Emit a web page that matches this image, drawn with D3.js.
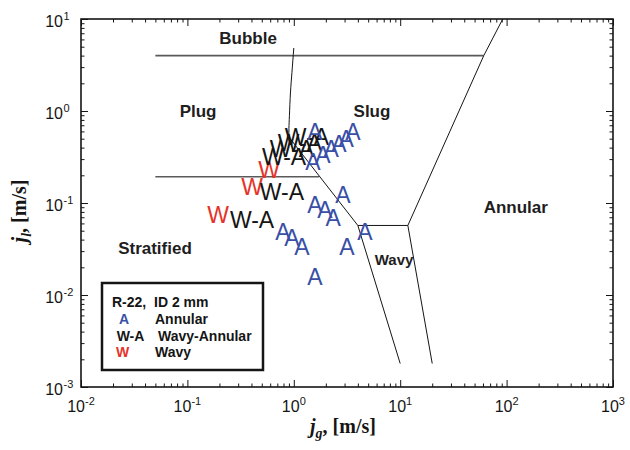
<!DOCTYPE html>
<html>
<head>
<meta charset="utf-8">
<script src="https://cdn.jsdelivr.net/npm/d3@7"></script>
<style>
  html, body { margin: 0; padding: 0; background: #fff; }
  svg { display: block; }
</style>
</head>
<body>
<script>
// Flow-pattern map for R-22 in a 2 mm tube: superficial gas vs liquid velocity

// Observed points, annular (A)
const annularJg = [1.58, 1.51, 1.88, 2.24, 2.66, 3.10, 3.60, 2.90, 1.58, 1.96, 2.34, 4.67, 0.79, 0.96, 1.19, 3.16, 1.58];
const annularJl = [0.59, 0.279, 0.333, 0.386, 0.438, 0.496, 0.59, 0.122, 0.095, 0.084, 0.0687, 0.0484, 0.0484, 0.0417, 0.0333, 0.0333, 0.0157];
// Observed points, wavy-annular (W-A)
const wavyAnnularJg = [0.774, 0.405, 0.81, 0.96, 1.14, 1.33];
const wavyAnnularJl = [0.132, 0.0653, 0.316, 0.386, 0.449, 0.521];
// Observed points, wavy (W)
const wavyJg = [0.585, 0.405, 0.194];
const wavyJl = [0.228, 0.149, 0.0741];

// Transition boundaries, each as [jg, jl] vertices
const bubbleLine = [[0.05, 4.0], [61, 4.0]];
const plugStratLine = [[0.05, 0.193], [1.73, 0.193]];
const bubblePlugCurve = [[1.0, 4.84], [0.96, 2.6], [0.93, 1.57], [0.91, 0.9], [0.90, 0.65], [0.90, 0.52]];
const slugStratLine = [[0.90, 0.52], [4.0, 0.057]];
const annularLine = [[92, 10], [61, 4.0], [11.8, 0.057]];
const wavyTopLine = [[4.0, 0.057], [11.8, 0.057]];
const wavyLeftLine = [[4.0, 0.057], [10, 0.0018]];
const wavyRightLine = [[11.8, 0.057], [20, 0.0018]];

// Regime names and where they sit
const regimeNames = ["Bubble", "Plug", "Slug", "Annular", "Stratified", "Wavy"];
const regimeJg = [0.372, 0.126, 5.43, 122, 0.0496, 8.75];
const regimeJl = [6.2, 1.0, 1.0, 0.0905, 0.0324, 0.0246];

// Axis decades
const xExponents = [-2, -1, 0, 1, 2, 3];
const yExponents = [-3, -2, -1, 0, 1];

// Legend rows
const legendSymbols = ["A", "W-A", "W"];
const legendLabels = ["Annular", "Wavy-Annular", "Wavy"];

const W = 630, H = 450;
const plotL = 81, plotR = 613, plotT = 19, plotB = 387;
const BLUE = "#3a4fa6", RED = "#e5332a", INK = "#151515";
const SANS = "'Liberation Sans', Arial, Helvetica, sans-serif";
const SERIF = "'Liberation Serif', 'Times New Roman', serif";
const MARK_SIZE = 23;

const svg = d3.select("body").append("svg").attr("width", W).attr("height", H);

const x = d3.scaleLog().domain([1e-2, 1e3]).range([plotL, plotR]);
const y = d3.scaleLog().domain([1e-3, 1e1]).range([plotB, plotT]);

// minor / major tick values
function minors(lo, hi) {
  const out = [];
  for (let e = lo; e < hi; e++) for (let m = 2; m <= 9; m++) out.push(m * Math.pow(10, e));
  return out;
}
const xMajor = xExponents.map(e => Math.pow(10, e));
const yMajor = yExponents.map(e => Math.pow(10, e));
const xMinor = minors(-2, 3);
const yMinor = minors(-3, 1);

function tickAxis(axisFn, scale, values, size, tx, ty) {
  const g = svg.append("g").attr("transform", `translate(${tx},${ty})`)
    .call(axisFn(scale).tickValues(values).tickSize(-size).tickFormat(""));
  g.select(".domain").remove();
  g.selectAll(".tick line").attr("stroke", INK).attr("stroke-width", 1);
}
tickAxis(d3.axisBottom, x, xMinor, 3.5, 0, plotB);
tickAxis(d3.axisBottom, x, xMajor, 7, 0, plotB);
tickAxis(d3.axisTop, x, xMinor, 3.5, 0, plotT);
tickAxis(d3.axisTop, x, xMajor, 7, 0, plotT);
tickAxis(d3.axisLeft, y, yMinor, 3.5, plotL, 0);
tickAxis(d3.axisLeft, y, yMajor, 7, plotL, 0);
tickAxis(d3.axisRight, y, yMinor, 3.5, plotR, 0);
tickAxis(d3.axisRight, y, yMajor, 7, plotR, 0);

// frame
svg.append("rect").attr("x", plotL).attr("y", plotT)
  .attr("width", plotR - plotL).attr("height", plotB - plotT)
  .attr("fill", "none").attr("stroke", INK).attr("stroke-width", 1.6);

// x tick labels
xExponents.forEach(e => {
  const t = svg.append("text").attr("x", x(Math.pow(10, e))).attr("y", 412)
    .attr("text-anchor", "middle").attr("font-family", SANS).attr("font-size", 16).attr("fill", INK);
  t.append("tspan").text("10");
  t.append("tspan").attr("dy", -7).attr("font-size", 11).text(e);
});
// y tick labels: the "10" parts line up, exponents hang to the right
yExponents.forEach(e => {
  const yy = y(Math.pow(10, e)) + 8;
  svg.append("text").attr("x", 63).attr("y", yy).attr("text-anchor", "end")
    .attr("font-family", SANS).attr("font-size", 16).attr("fill", INK).text("10");
  svg.append("text").attr("x", 63.5).attr("y", yy - 7).attr("text-anchor", "start")
    .attr("font-family", SANS).attr("font-size", 11).attr("fill", INK).text(e);
});

// axis titles
const xt = svg.append("text").attr("x", 343).attr("y", 433).attr("text-anchor", "middle")
  .attr("font-family", SERIF).attr("font-weight", "bold").attr("font-size", 20).attr("fill", INK);
xt.append("tspan").attr("font-style", "italic").text("j");
xt.append("tspan").attr("font-style", "italic").attr("font-size", 14).attr("dy", 5).text("g");
xt.append("tspan").attr("dy", -5).text(", [m/s]");

const yt = svg.append("text").attr("transform", "translate(26,211) rotate(-90)").attr("text-anchor", "middle")
  .attr("font-family", SERIF).attr("font-weight", "bold").attr("font-size", 20).attr("fill", INK);
yt.append("tspan").attr("font-style", "italic").text("j");
yt.append("tspan").attr("font-style", "italic").attr("font-size", 14).attr("dy", 5).text("l");
yt.append("tspan").attr("dy", -5).text(", [m/s]");

// boundaries
const line = d3.line().x(d => x(d[0])).y(d => y(d[1]));
const curved = d3.line().x(d => x(d[0])).y(d => y(d[1])).curve(d3.curveNatural);
const bounds = svg.append("g").attr("fill", "none");
[bubbleLine, plugStratLine].forEach(pts =>
  bounds.append("path").attr("d", line(pts)).attr("stroke", "#5a5a5a").attr("stroke-width", 1.6));
[slugStratLine, annularLine, wavyTopLine, wavyLeftLine, wavyRightLine].forEach(pts =>
  bounds.append("path").attr("d", line(pts)).attr("stroke", INK).attr("stroke-width", 1));
bounds.append("path").attr("d", curved(bubblePlugCurve)).attr("stroke", INK).attr("stroke-width", 1);

// regime names
regimeNames.forEach((name, i) => {
  svg.append("text").attr("x", x(regimeJg[i])).attr("y", y(regimeJl[i]) + 6)
    .attr("text-anchor", "middle").attr("font-family", SANS).attr("font-weight", "bold")
    .attr("font-size", name === "Wavy" ? 15 : 17).attr("fill", "#1e1e1e").text(name);
});

// observed data as letter markers, centred on each point
function letters(jg, jl, label, color) {
  svg.append("g").selectAll("text").data(jg.map((g, i) => [g, jl[i]])).join("text")
    .attr("x", d => x(d[0])).attr("y", d => y(d[1]) + MARK_SIZE * 0.36)
    .attr("text-anchor", "middle").attr("font-family", SANS).attr("font-size", MARK_SIZE)
    .attr("fill", color).text(label);
}
letters(wavyJg, wavyJl, "W", RED);
letters(wavyAnnularJg, wavyAnnularJl, "W-A", INK);
letters(annularJg, annularJl, "A", BLUE);

// legend
const lg = svg.append("g");
lg.append("rect").attr("x", 102).attr("y", 283).attr("width", 161).attr("height", 87)
  .attr("fill", "#fff").attr("stroke", INK).attr("stroke-width", 2.5);
lg.append("text").attr("x", 112).attr("y", 307).attr("font-family", SANS).attr("font-weight", "bold")
  .attr("font-size", 14).attr("fill", INK).attr("xml:space", "preserve").text("R-22,  ID 2 mm");
const symColors = [BLUE, INK, RED];
const symX = [124, 130.5, 122.5];
const labX = [155, 158, 155];
const rowY = [324, 341, 357];
legendSymbols.forEach((s, i) => {
  lg.append("text").attr("x", symX[i]).attr("y", rowY[i]).attr("text-anchor", "middle")
    .attr("font-family", SANS).attr("font-weight", "bold").attr("font-size", 14)
    .attr("fill", symColors[i]).text(s);
  lg.append("text").attr("x", labX[i]).attr("y", rowY[i])
    .attr("font-family", SANS).attr("font-weight", "bold").attr("font-size", 14)
    .attr("fill", INK).text(legendLabels[i]);
});
</script>
</body>
</html>
